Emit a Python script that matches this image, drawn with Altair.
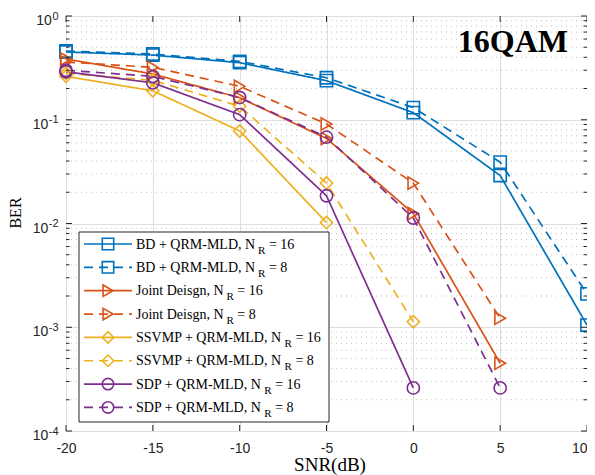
import altair as alt
import pandas as pd

# ---------------- data ----------------
snr = [-20, -15, -10, -5, 0, 5, 10]

bd_16 = [0.45, 0.42, 0.355, 0.238, 0.117, 0.029, 0.00105]
bd_8 = [0.46, 0.43, 0.365, 0.254, 0.131, 0.039, 0.0021]
jd_16 = [0.385, 0.276, 0.163, 0.066, 0.0125, 0.00045]
jd_8 = [0.36, 0.32, 0.21, 0.091, 0.0245, 0.00122]
ss_16 = [0.262, 0.19, 0.078, 0.0102]
ss_8 = [0.28, 0.24, 0.135, 0.0245, 0.00113]
sdp_16 = [0.29, 0.227, 0.112, 0.0185, 0.00026]
sdp_8 = [0.30, 0.262, 0.164, 0.068, 0.0113, 0.00026]

keys = ["BD16", "BD8", "JD16", "JD8", "SS16", "SS8", "SDP16", "SDP8"]
series_values = [bd_16, bd_8, jd_16, jd_8, ss_16, ss_8, sdp_16, sdp_8]
label_prefix = ["BD + QRM-MLD, N", "BD + QRM-MLD, N", "Joint Deisgn, N", "Joint Deisgn, N",
                "SSVMP + QRM-MLD, N", "SSVMP + QRM-MLD, N", "SDP + QRM-MLD, N", "SDP + QRM-MLD, N"]
label_sub = ["R"] * 8
label_suffix = ["= 16", "= 8"] * 4
colors = ["#0072BD", "#0072BD", "#D95319", "#D95319", "#EDB120", "#EDB120", "#7E2F8E", "#7E2F8E"]
shapes = ["square", "square", "triangle-right", "triangle-right", "diamond", "diamond", "circle", "circle"]
dashes = ["solid", "dashed"] * 4

decades = [1, 0.1, 0.01, 0.001, 0.0001]
decade_exp = ["0", "-1", "-2", "-3", "-4"]
minor_vals = [m * 10.0 ** e for e in range(-4, 0) for m in range(2, 10)]

# ---------------- layout constants ----------------
W, H = 521, 415
SERIF = "Liberation Serif"
SANS = "Liberation Sans"
AXC = "#262626"

TIMES = {" ": 250, "+": 564, ",": 250, "-": 333, "=": 564, "B": 667, "D": 722, "Q": 722, "R": 667,
         "M": 889, "L": 611, "N": 722, "J": 389, "o": 500, "i": 278, "n": 500, "t": 278, "e": 444,
         "s": 389, "g": 500, "S": 556, "V": 722, "P": 556, "1": 500, "6": 500, "8": 500}
HELV = {"0": 556, "1": 556, "2": 556, "3": 556, "4": 556, "-": 333}


def tw(s, table, size):
    return sum(table.get(c, 500) for c in s) * size / 1000.0


rows = []
for k, vals in zip(keys, series_values):
    for x, v in zip(snr, vals):
        rows.append({"key": k, "snr": x, "ber": v})
df = pd.DataFrame(rows)

color_scale = alt.Scale(domain=keys, range=colors)
shape_scale = alt.Scale(domain=keys, range=shapes)
dash_scale = alt.Scale(domain=["solid", "dashed"], range=[[1, 0], [9, 6]])
df["dash"] = df["key"].map(dict(zip(keys, dashes)))

xscale = alt.Scale(domain=[-20, 10], nice=False, zero=False)
yscale = alt.Scale(type="log", domain=[1e-4, 1], nice=False)

xaxis = alt.Axis(values=snr, grid=True, gridColor="#dedede", gridWidth=1, ticks=False, tickSize=0,
                 domain=False, title=None, labelFont=SANS, labelFontSize=14, labelColor=AXC,
                 labelBaseline="alphabetic", labelPadding=21, labelExpr="'' + datum.value",
                 labelAlign={"expr": "datum.value == 10 ? 'right' : 'center'"},
                 labelFlush=False, labelOverlap=False)
yaxis = alt.Axis(values=decades, grid=True, gridColor="#dedede", gridWidth=1, ticks=False,
                 tickSize=0, domain=False, labels=False, title=None)

X = alt.X("snr:Q", scale=xscale, axis=xaxis)
Y = alt.Y("ber:Q", scale=yscale, axis=yaxis)

# minor grid (dotted)
minor_df = pd.DataFrame({"m": minor_vals})
minor_grid = alt.Chart(minor_df).mark_rule(color="#b9b9b9", strokeWidth=0.9, strokeDash=[1, 4]).encode(
    y=alt.Y("m:Q", scale=yscale), x=alt.value(0), x2=alt.value(W))

lines = alt.Chart(df).mark_line(strokeWidth=1.7).encode(
    x=X, y=Y,
    color=alt.Color("key:N", scale=color_scale, legend=None),
    strokeDash=alt.StrokeDash("dash:N", scale=dash_scale, legend=None),
    detail="key:N")
points = alt.Chart(df).mark_point(filled=False, size=150, strokeWidth=1.6, opacity=1).encode(
    x="snr:Q", y="ber:Q",
    color=alt.Color("key:N", scale=color_scale, legend=None),
    shape=alt.Shape("key:N", scale=shape_scale, legend=None))

# ticks (inward, all four sides)
xt = pd.DataFrame({"t": snr})
xticks_b = alt.Chart(xt).mark_rule(color=AXC, strokeWidth=1).encode(
    x=alt.X("t:Q", scale=xscale), y=alt.value(H), y2=alt.value(H - 6))
xticks_t = alt.Chart(xt).mark_rule(color=AXC, strokeWidth=1).encode(
    x=alt.X("t:Q", scale=xscale), y=alt.value(0), y2=alt.value(6))
yt = pd.DataFrame({"v": decades})
yticks_l = alt.Chart(yt).mark_rule(color=AXC, strokeWidth=1).encode(
    y=alt.Y("v:Q", scale=yscale), x=alt.value(0), x2=alt.value(6))
yticks_r = alt.Chart(yt).mark_rule(color=AXC, strokeWidth=1).encode(
    y=alt.Y("v:Q", scale=yscale), x=alt.value(W - 6), x2=alt.value(W))
ymt_l = alt.Chart(minor_df).mark_rule(color=AXC, strokeWidth=1).encode(
    y=alt.Y("m:Q", scale=yscale), x=alt.value(0), x2=alt.value(3.5))
ymt_r = alt.Chart(minor_df).mark_rule(color=AXC, strokeWidth=1).encode(
    y=alt.Y("m:Q", scale=yscale), x=alt.value(W - 3.5), x2=alt.value(W))

# y tick labels 10^k
EXP_SIZE = 11
ylab = pd.DataFrame({"v": decades, "e": decade_exp})
ylab["ex"] = -7.5
ylab["tx"] = [-7.5 - tw(e, HELV, EXP_SIZE) - 0.5 for e in decade_exp]
ylab_base = alt.Chart(ylab).mark_text(font=SANS, fontSize=14, align="right", baseline="alphabetic",
                                      dy=9, color=AXC).encode(
    y=alt.Y("v:Q", scale=yscale), x=alt.X("tx:Q", scale=None), text=alt.value("10"))
ylab_exp = alt.Chart(ylab).mark_text(font=SANS, fontSize=EXP_SIZE, align="right", baseline="alphabetic",
                                     dy=3.5, color=AXC).encode(
    y=alt.Y("v:Q", scale=yscale), x=alt.X("ex:Q", scale=None), text="e:N")

# axis titles
titles = pd.DataFrame({"a": [0]})
ber_title = alt.Chart(titles).mark_text(font=SERIF, fontSize=16, angle=270, align="center",
                                        baseline="alphabetic", color="#000").encode(
    x=alt.value(-45), y=alt.value(197), text=alt.value("BER"))
snr_title = alt.Chart(titles).mark_text(font=SERIF, fontSize=19, align="center",
                                        baseline="alphabetic", color="#000").encode(
    x=alt.value(264), y=alt.value(455), text=alt.value("SNR(dB)"))
qam_title = alt.Chart(titles).mark_text(font=SERIF, fontSize=32, fontWeight="bold", align="right",
                                        baseline="alphabetic", color="#000").encode(
    x=alt.value(502), y=alt.value(36), text=alt.value("16QAM"))

# legend (manual, to allow the subscript R)
ROW0, ROWSTEP = 228, 23.35
leg = pd.DataFrame({"key": keys, "prefix": label_prefix, "sub": label_sub, "suffix": label_suffix,
                    "dash": dashes})
leg["ly"] = [ROW0 + i * ROWSTEP for i in range(len(keys))]
leg["ty"] = leg["ly"] + 4.5
leg["sy"] = leg["ly"] + 9.5
leg["xr"] = [70 + tw(p, TIMES, 14) + 3 for p in label_prefix]
leg["xs"] = leg["xr"] + tw("R", TIMES, 11) + tw(" ", TIMES, 14)

leg_box = alt.Chart(titles).mark_rect(fill="white", stroke=AXC, strokeWidth=1).encode(
    x=alt.value(13), x2=alt.value(263), y=alt.value(216), y2=alt.value(406))
leg_lines = alt.Chart(leg).mark_rule(strokeWidth=1.7).encode(
    x=alt.value(18), x2=alt.value(66), y=alt.Y("ly:Q", scale=None),
    color=alt.Color("key:N", scale=color_scale, legend=None),
    strokeDash=alt.StrokeDash("dash:N", scale=dash_scale, legend=None))
leg_pts = alt.Chart(leg).mark_point(filled=False, size=130, strokeWidth=1.6, opacity=1).encode(
    x=alt.value(42), y=alt.Y("ly:Q", scale=None),
    color=alt.Color("key:N", scale=color_scale, legend=None),
    shape=alt.Shape("key:N", scale=shape_scale, legend=None))
leg_t1 = alt.Chart(leg).mark_text(font=SERIF, fontSize=14, align="left", baseline="alphabetic",
                                  color="#000").encode(
    x=alt.value(70), y=alt.Y("ty:Q", scale=None), text="prefix:N")
leg_t2 = alt.Chart(leg).mark_text(font=SERIF, fontSize=11, align="left", baseline="alphabetic",
                                  color="#000").encode(
    x=alt.X("xr:Q", scale=None), y=alt.Y("sy:Q", scale=None), text="sub:N")
leg_t3 = alt.Chart(leg).mark_text(font=SERIF, fontSize=14, align="left", baseline="alphabetic",
                                  color="#000").encode(
    x=alt.X("xs:Q", scale=None), y=alt.Y("ty:Q", scale=None), text="suffix:N")

chart = alt.layer(
    minor_grid, lines, points,
    xticks_b, xticks_t, yticks_l, yticks_r, ymt_l, ymt_r,
    ylab_base, ylab_exp, ber_title, snr_title, qam_title,
    leg_box, leg_lines, leg_pts, leg_t1, leg_t2, leg_t3,
).properties(
    width=W, height=H,
    autosize=alt.AutoSizeParams(type="none"),
    padding={"left": 58, "top": 8, "right": 0, "bottom": 44},
    background="white",
).configure_view(stroke=AXC, strokeWidth=1)

chart.save("out.html", embed_options={"renderer": "svg", "actions": False})
